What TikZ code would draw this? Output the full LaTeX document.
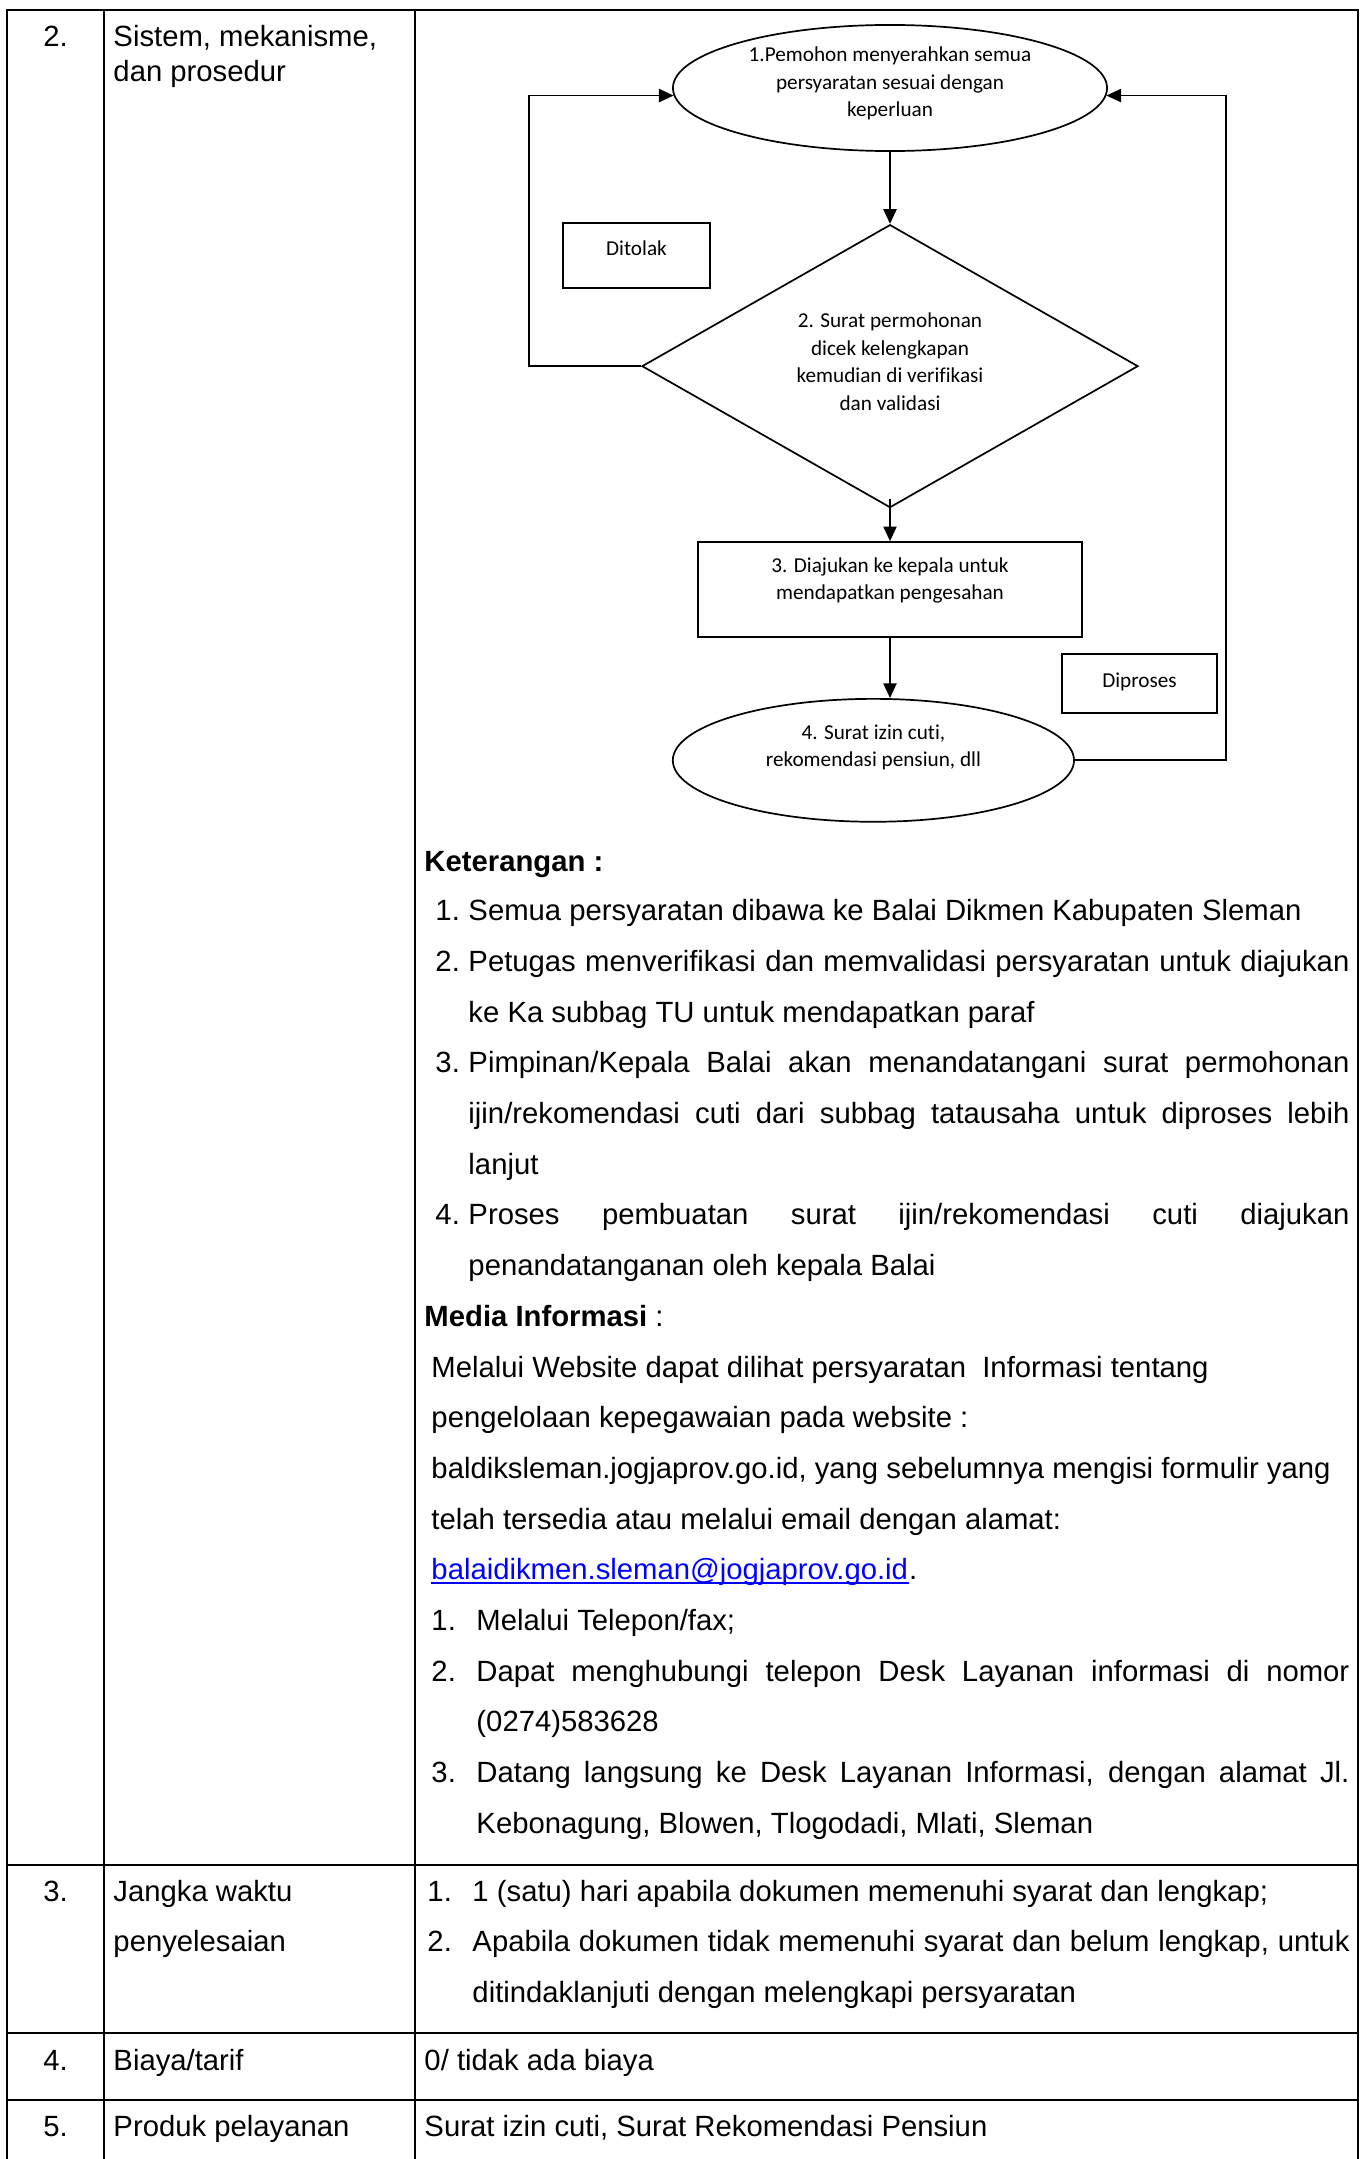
\documentclass[tikz,border=0pt]{standalone}
\usepackage{fontspec}
\setmainfont[Ligatures=NoCommon]{Liberation Sans}
\newfontfamily\boxfont[Ligatures=NoCommon]{Carlito}
\usepackage{tikz}
\usetikzlibrary{arrows.meta,positioning,shapes.geometric}
\definecolor{lnk}{RGB}{0,0,255}
\newcommand{\jline}[2]{\makebox[#1][s]{#2}}
\newcommand{\lift}[1]{\rule[-#1]{0pt}{#1}}

\begin{document}
\begin{tikzpicture}[x=0.41pt, y=-0.41pt,
  tbl/.style={line width=0.75pt, line cap=rect},
  cell/.style={anchor=base west, inner sep=0pt, font=\fontsize{12pt}{14pt}\selectfont},
  num/.style={cell, anchor=base},
  fc/.style={draw, line width=0.7pt, align=center, inner sep=0pt, font=\boxfont\fontsize{8.7pt}{11.3pt}\selectfont},
  oval/.style={fc, ellipse},
  proc/.style={fc, rectangle},
  dec/.style={fc, diamond, aspect=1.75},
  tag/.style={fc, rectangle},
  arr/.style={-{Triangle[length=6pt, width=5.4pt]}, line width=0.7pt}
]
\useasboundingbox (0,0) rectangle (1367,2159);

% table grid
\foreach \y in {10,1865,2033,2100}
  \draw[tbl] (7,\y) -- (1358,\y);
\foreach \x in {7,104,415,1358}
  \draw[tbl] (\x,10) -- (\x,2159);

% flowchart
\node[oval, minimum width=178pt, minimum height=51.7pt] (s1) at (890,88) {1.Pemohon menyerahkan semua\\ persyaratan sesuai dengan\\ keperluan\lift{5pt}};
\node[dec, minimum width=203.4pt, minimum height=116pt, below=29.5pt of s1] (s2) {2. Surat permohonan\\ dicek kelengkapan\\ kemudian di verifikasi\\ dan validasi\lift{3.7pt}};
\node[proc, minimum width=157.4pt, minimum height=39pt, below=13.4pt of s2] (s3) {3. Diajukan ke kepala untuk\\ mendapatkan pengesahan\lift{9pt}};
\node[oval, minimum width=164.5pt, minimum height=50.4pt, below=24.6pt of s3, xshift=-6.8pt] (s4) {4. Surat izin cuti,\\ rekomendasi pensiun, dll\lift{12pt}};
\node[tag, minimum width=60.3pt, minimum height=26.7pt] (d1) at (636.5,255.5) {Ditolak\lift{6pt}};
\node[tag, minimum width=63.6pt, minimum height=24.2pt] (d2) at (1139.5,683.5) {Diproses\lift{3pt}};

\draw[arr] (s1) -- (s2);
\draw[arr] ([yshift=3.7pt]s2.south) -- (s3.north);
\draw[arr] (s3.south) -- (s3.south |- s4.north);
\draw[arr] (s2.west) -- ++(-112,0) |- (s1.182);
\draw[arr] (s4.east) -- ++(151,0) |- (s1.358.5);

% column 1
\node[num] (n2) at (55.5,47) {2.};
\node[num] (n3) at (55.5,1901) {3.};
\node[num] (n4) at (55.5,2070) {4.};
\node[num] (n5) at (55.5,2136) {5.};

% column 2
\node[cell] (c2a) at (113,47) {Sistem, mekanisme,};
\node[cell] (c2b) at (113,82) {dan prosedur};
\node[cell] (c3a) at (113,1901) {Jangka waktu};
\node[cell] (c3b) at (113,1951.7) {penyelesaian};
\node[cell] (c4) at (113,2070) {Biaya/tarif};
\node[cell] (c5) at (113,2136) {Produk pelayanan};

% keterangan
\node[cell] (ket) at (424,871) {\textbf{Keterangan :}};
\node[cell] (k1n) at (435,920.7) {1.};
\node[cell] (k1) at (468,920.7) {Semua persyaratan dibawa ke Balai Dikmen Kabupaten Sleman};
\node[cell] (k2n) at (435,971.4) {2.};
\node[cell] (k2) at (468,971.4) {\jline{361.2pt}{Petugas menverifikasi dan memvalidasi persyaratan untuk diajukan}};
\node[cell] (k2b) at (468,1022.1) {ke Ka subbag TU untuk mendapatkan paraf};
\node[cell] (k3n) at (435,1072.8) {3.};
\node[cell] (k3) at (468,1072.8) {\jline{361.2pt}{Pimpinan/Kepala Balai akan menandatangani surat permohonan}};
\node[cell] (k3b) at (468,1123.5) {\jline{361.2pt}{ijin/rekomendasi cuti dari subbag tatausaha untuk diproses lebih}};
\node[cell] (k3c) at (468,1174.2) {lanjut};
\node[cell] (k4n) at (435,1224.9) {4.};
\node[cell] (k4) at (468,1224.9) {\jline{361.2pt}{Proses pembuatan surat ijin/rekomendasi cuti diajukan}};
\node[cell] (k4b) at (468,1275.6) {penandatanganan oleh kepala Balai};

% media informasi
\node[cell] (med) at (424,1326.3) {\textbf{Media Informasi} :};
\node[cell] (m1) at (431,1377) {Melalui Website dapat dilihat persyaratan\ \ Informasi tentang};
\node[cell] (m2) at (431,1427.7) {pengelolaan kepegawaian pada website :};
\node[cell] (m3) at (431,1478.4) {baldiksleman.jogjaprov.go.id, yang sebelumnya mengisi formulir yang};
\node[cell] (m4) at (431,1529.1) {telah tersedia atau melalui email dengan alamat:};
\node[cell, text=lnk] (mail) at (431,1579.8) {balaidikmen.sleman@jogjaprov.go.id};
\node[cell] (dot) at (mail.base east) {.};
\draw[lnk, line width=0.55pt] ([yshift=-1.3pt]mail.base west) -- ([yshift=-1.3pt]mail.base east);
\node[cell] (t1n) at (431,1630.5) {1.};
\node[cell] (t1) at (476,1630.5) {Melalui Telepon/fax;};
\node[cell] (t2n) at (431,1681.2) {2.};
\node[cell] (t2) at (476,1681.2) {\jline{357.9pt}{Dapat menghubungi telepon Desk Layanan informasi di nomor}};
\node[cell] (t2b) at (476,1731.9) {(0274)583628};
\node[cell] (t3n) at (431,1782.6) {3.};
\node[cell] (t3) at (476,1782.6) {\jline{357.9pt}{Datang langsung ke Desk Layanan Informasi, dengan alamat Jl.}};
\node[cell] (t3b) at (476,1833.3) {Kebonagung, Blowen, Tlogodadi, Mlati, Sleman};

% rows 3 to 5
\node[cell] (j1n) at (427,1901) {1.};
\node[cell] (j1) at (472,1901) {1 (satu) hari apabila dokumen memenuhi syarat dan lengkap;};
\node[cell] (j2n) at (427,1951.7) {2.};
\node[cell] (j2) at (472,1951.7) {\jline{359.6pt}{Apabila dokumen tidak memenuhi syarat dan belum lengkap, untuk}};
\node[cell] (j2b) at (472,2002.4) {ditindaklanjuti dengan melengkapi persyaratan};
\node[cell] (by) at (424,2070) {0/ tidak ada biaya};
\node[cell] (pr) at (424,2136) {Surat izin cuti, Surat Rekomendasi Pensiun};
\end{tikzpicture}
\end{document}
